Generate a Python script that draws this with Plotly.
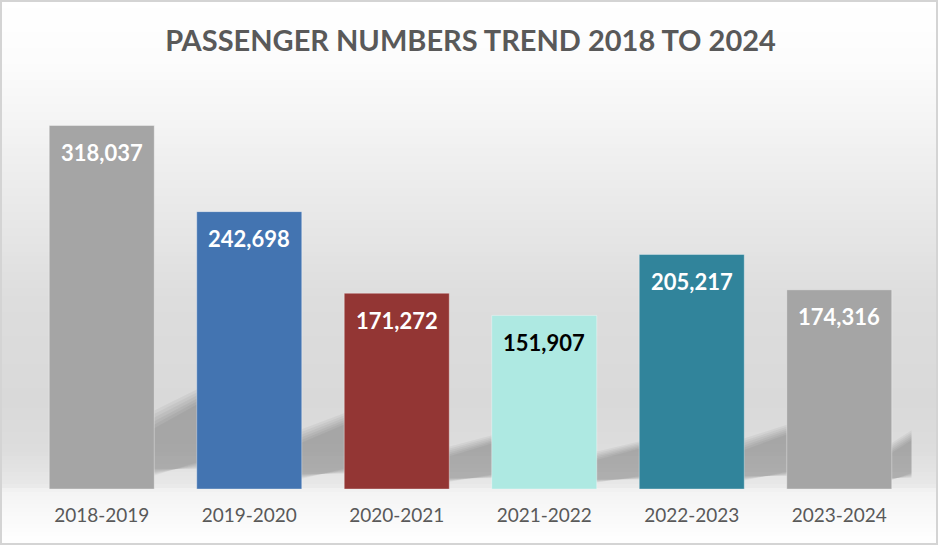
import plotly.graph_objects as go

# ---- data ----
periods = ["2018-2019", "2019-2020", "2020-2021", "2021-2022", "2022-2023", "2023-2024"]
passengers = [318037, 242698, 171272, 151907, 205217, 174316]
bar_colors = ["#a5a5a5", "#4374b1", "#933634", "#aee9e2", "#31849b", "#a5a5a5"]
label_colors = ["#ffffff", "#ffffff", "#ffffff", "#000000", "#ffffff", "#ffffff"]
title_text = "PASSENGER NUMBERS TREND 2018 TO 2024"

W, H = 938, 545
L, R, T, B = 28, 25, 89, 56
PW, PH = W - L - R, H - T - B
YMAX = 350000


def xp(px):
    return (px - L) / PW


def yp(py):
    return (H - B - py) / PH


def grey(py):
    stops = [(0, 255), (60, 252), (100, 247), (200, 234), (300, 221), (400, 217),
             (450, 221), (485, 232), (492, 244), (520, 250), (545, 255)]
    for (a, ga), (b, gb) in zip(stops[:-1], stops[1:]):
        if a <= py <= b:
            g = ga + (gb - ga) * (py - a) / (b - a)
            g = int(round(g))
            return f"rgb({g},{g},{g})"
    return "rgb(255,255,255)"


shapes = []
# background gradient (styling)
step = 4
for py in range(0, H, step):
    shapes.append(dict(type="rect", xref="paper", yref="paper", layer="below",
                       x0=xp(0), x1=xp(W), y0=yp(py + step), y1=yp(py),
                       fillcolor=grey(py + step / 2), line=dict(width=0)))

# soft floor shadows behind bars, scaled from each bar's value
grows = [0.05, 0.04, 0.03, 0.02, 0.01, 0.0]
for i, v in enumerate(passengers):
    for grow in grows:
        x_right = min(i + 0.70 + grow, 5.49)
        path = (f"M {i + 0.30} {(0.03 + grow * 0.5) * v} "
                f"L {i + 0.30} {(0.155 + grow) * v} "
                f"L {x_right} {(0.245 + grow) * v} "
                f"L {x_right} {max(0.08 - grow * 0.5, 0.0) * v} Z")
        shapes.append(dict(type="path", xref="x", yref="y", layer="below",
                           path=path, fillcolor="black", opacity=0.045,
                           line=dict(width=0)))

# outer frame
shapes.append(dict(type="rect", xref="paper", yref="paper", layer="above",
                   x0=xp(1), x1=xp(W - 1), y0=yp(H - 1), y1=yp(1),
                   line=dict(color="#d4d4d4", width=2), fillcolor="rgba(0,0,0,0)"))

fig = go.Figure(go.Bar(
    x=periods, y=passengers,
    marker=dict(color=bar_colors, line=dict(color="rgba(255,255,255,0.35)", width=1)),
    hoverinfo="x+y",
))

annotations = []
for p, v, c in zip(periods, passengers, label_colors):
    annotations.append(dict(x=p, y=v, xref="x", yref="y", text=f"<b>{v:,}</b>",
                            showarrow=False, yanchor="middle", yshift=-27,
                            font=dict(family="Lato", size=22, color=c)))

fig.update_layout(
    width=W, height=H,
    margin=dict(l=L, r=R, t=T, b=B, pad=0),
    paper_bgcolor="white",
    plot_bgcolor="rgba(0,0,0,0)",
    title=dict(text=f"<b>{title_text}</b>", x=0.5, xref="paper", xanchor="center",
               y=1 - 41 / H, yanchor="middle",
               font=dict(family="Lato", size=29, color="#595959")),
    bargap=0.288,
    showlegend=False,
    shapes=shapes,
    annotations=annotations,
    xaxis=dict(showgrid=False, zeroline=False, showline=False,
               ticks="outside", ticklen=9, tickcolor="rgba(0,0,0,0)",
               tickfont=dict(family="Lato", size=19, color="#595959")),
    yaxis=dict(range=[0, YMAX], visible=False, showgrid=False, zeroline=False),
)

fig.write_html("out.html",
               config={"displayModeBar": False},
               post_script=["document.body.style.margin='0px';"
                            "document.body.style.overflow='hidden';"])
